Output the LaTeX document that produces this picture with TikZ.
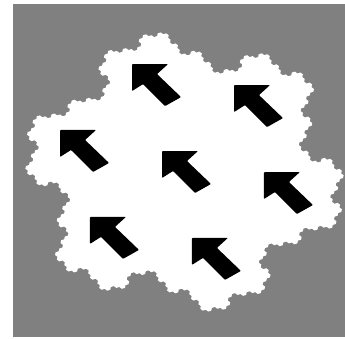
\documentclass[tikz,border=0pt]{standalone}
\definecolor{bggray}{RGB}{128,128,128}
\tikzset{arrowshape/.style={fill=black, rounded corners=0.8pt}}
\def\gosx{0}
\def\gosy{0}
\def\gosstep{2.8061}
\def\gosseg#1#2{%
  \ifnum#1=0
    \pgfmathsetmacro\gosnx{\gosx+\gosstep*cos(#2)}%
    \pgfmathsetmacro\gosny{\gosy+\gosstep*sin(#2)}%
    \xdef\gosx{\gosnx}\xdef\gosy{\gosny}%
    \pgfpathlineto{\pgfpoint{\gosx pt}{\gosy pt}}%
  \else
    \pgfmathsetmacro\gosa{#2-19.1066}%
    \pgfmathsetmacro\gosb{#2+40.8934}%
    \edef\gosnext{\noexpand\gosseg{\the\numexpr#1-1\relax}{\gosa}\noexpand\gosseg{\the\numexpr#1-1\relax}{\gosb}\noexpand\gosseg{\the\numexpr#1-1\relax}{\gosa}}%
    \gosnext
  \fi}
\newcommand\arrowat[2]{%
  \begin{scope}[shift={(#1,#2)}]
    \fill[arrowshape] (-22,19) -- (14,19) -- (3,9) -- (27,-14) -- (11,-23) -- (-11,-1) -- (-22,-8) -- cycle;
  \end{scope}}
\begin{document}
\begin{tikzpicture}[x=1pt,y=1pt]
\useasboundingbox (0,0) rectangle (345,338);
\fill[bggray] (13,1) rectangle (345,334);
\begin{scope}[shift={(184.5,166)}, xscale=1.154]
  \pgfmathsetmacro\tmpx{137.5*cos(-24.3)}\xdef\gosx{\tmpx}
  \pgfmathsetmacro\tmpy{137.5*sin(-24.3)}\xdef\gosy{\tmpy}
  \pgfpathmoveto{\pgfpoint{\gosx pt}{\gosy pt}}
  \gosseg{4}{95.7}
  \gosseg{4}{155.7}
  \gosseg{4}{215.7}
  \gosseg{4}{275.7}
  \gosseg{4}{335.7}
  \gosseg{4}{395.7}
  \pgfpathclose
  \pgfsetfillcolor{white}
  \pgfusepath{fill}
\end{scope}
\arrowat{184}{168}
\foreach \a in {0,60,120,180,240,300}{
  \pgfmathsetmacro\dx{184+104.8*cos(-13.4+\a)}
  \pgfmathsetmacro\dy{168+90.7*sin(-13.4+\a)}
  \arrowat{\dx}{\dy}
}
\end{tikzpicture}
\end{document}
